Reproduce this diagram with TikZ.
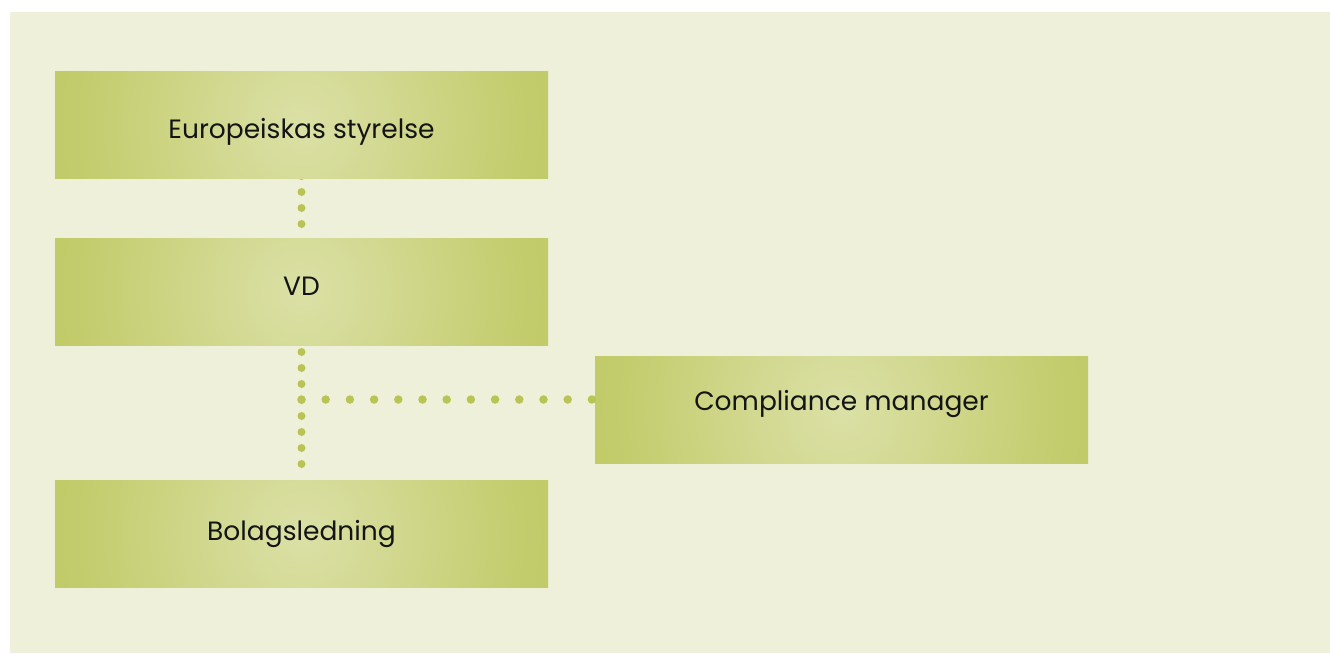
\documentclass[tikz,border=0pt]{standalone}
\usepackage{fontspec}
\setmainfont{Poppins}
\begin{document}
\definecolor{pagebg}{HTML}{EEF0D9}
\definecolor{boxedge}{HTML}{B9C454}
\definecolor{boxmid}{HTML}{DBE0A6}
\definecolor{dotgreen}{HTML}{B9C454}
\definecolor{ink}{HTML}{141414}
% soft glow: light centre fading to the olive edge colour
\pgfdeclareradialshading{boxglow}{\pgfpoint{0bp}{0bp}}{%
  color(0bp)=(boxmid);
  color(10bp)=(boxedge!30!boxmid);
  color(21bp)=(boxedge!66!boxmid);
  color(29bp)=(boxedge!84!boxmid);
  color(34bp)=(boxedge);
  color(50bp)=(boxedge)}
\begin{tikzpicture}[x=1pt,y=-1pt,
  orgbox/.style={rectangle, minimum width=493pt, minimum height=107pt,
    inner sep=0pt, text height=40pt,
    path picture={\shade[shading=boxglow]
      (path picture bounding box.center) ++(-246.5pt,-250pt) rectangle ++(493pt,500pt);},
    text=ink, font=\fontsize{26.5}{30}\selectfont},
  vdots/.style={draw=dotgreen, line width=8pt, line cap=round,
    dash pattern=on 0pt off 16pt},
  hdots/.style={draw=dotgreen, line width=8.5pt, line cap=round,
    dash pattern=on 0pt off 24.2pt}]
  % page and panel
  \useasboundingbox (0,0) rectangle (1330,653);
  \fill[white] (0,0) rectangle (1330,653);
  \fill[pagebg] (10,12) rectangle (1330,653);
  % connectors drawn first so the boxes cover their ends
  \coordinate (junction) at (301.5,399.5);
  \coordinate (topA) at (301.5,176);
  \coordinate (topB) at (301.5,240);
  \coordinate (midA) at (301.5,352);
  \coordinate (midB) at (301.5,480);
  \draw[vdots] (topA) -- (topB);
  \draw[vdots] (midA) -- (midB);
  % boxes
  \node[orgbox, text depth=13pt] (board) at (301.5,124.5) {Europeiskas styrelse};
  \node[orgbox, text depth=32.4pt] (ceo) at (301.5,291.5) {VD};
  \node[orgbox, text depth=26.4pt] (mgmt) at (301.5,533.5) {Bolagsledning};
  \node[orgbox, text depth=37.6pt] (comp) at (841.5,409.5) {Compliance manager};
  \draw[hdots] (junction) -- (comp.west |- junction);
\end{tikzpicture}
\end{document}
